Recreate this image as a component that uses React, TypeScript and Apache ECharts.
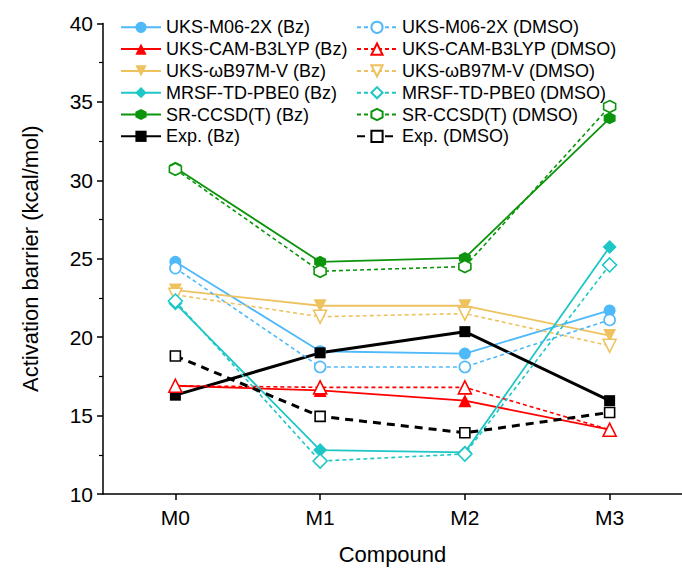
import React, { useEffect, useRef } from "react";
import * as echarts from "echarts";

const categories = ["M0", "M1", "M2", "M3"];

const m062xBz = [24.8, 19.1, 18.95, 21.7];
const m062xDmso = [24.4, 18.1, 18.1, 21.1];
const camBz = [16.9, 16.6, 15.95, 14.1];
const camDmso = [16.9, 16.8, 16.8, 14.1];
const wb97Bz = [23.0, 22.0, 22.0, 20.1];
const wb97Dmso = [22.7, 21.3, 21.5, 19.45];
const mrsfBz = [22.15, 12.8, 12.65, 25.75];
const mrsfDmso = [22.3, 12.1, 12.55, 24.6];
const ccsdBz = [30.8, 24.8, 25.05, 33.95];
const ccsdDmso = [30.7, 24.2, 24.5, 34.7];
const expBz = [16.3, 19.0, 20.35, 15.95];
const expDmso = [18.8, 14.95, 13.9, 15.2];

const yTicks = { min: 10, max: 40, interval: 5 };

const FONT = "Liberation Sans, Arial, sans-serif";

const C_BLUE = "#4fb9f9";
const C_RED = "#ff0000";
const C_YEL = "#eec25f";
const C_CYAN = "#1fc6c6";
const C_GREEN = "#0c950c";
const C_BLACK = "#000000";

const HEX = "path://M5,0 L9.33,2.5 L9.33,7.5 L5,10 L0.67,7.5 L0.67,2.5 Z";
const TRI_DOWN = "path://M0,0 L10,0 L5,8.66 Z";
const TRI_UP = "path://M5,0 L10,8.66 L0,8.66 Z";

type Def = {
  name: string;
  data: number[];
  color: string;
  symbol: string;
  size: number;
  hollow: boolean;
  width: number;
  dash: number[] | null;
};

const defs: Def[] = [
  { name: "UKS-M06-2X (Bz)", data: m062xBz, color: C_BLUE, symbol: "circle", size: 12, hollow: false, width: 1.8, dash: null },
  { name: "UKS-CAM-B3LYP (Bz)", data: camBz, color: C_RED, symbol: TRI_UP, size: 13, hollow: false, width: 1.8, dash: null },
  { name: "UKS-ωB97M-V (Bz)", data: wb97Bz, color: C_YEL, symbol: TRI_DOWN, size: 13, hollow: false, width: 1.8, dash: null },
  { name: "MRSF-TD-PBE0 (Bz)", data: mrsfBz, color: C_CYAN, symbol: "diamond", size: 14, hollow: false, width: 1.8, dash: null },
  { name: "SR-CCSD(T) (Bz)", data: ccsdBz, color: C_GREEN, symbol: HEX, size: 12, hollow: false, width: 1.8, dash: null },
  { name: "Exp. (Bz)", data: expBz, color: C_BLACK, symbol: "rect", size: 11, hollow: false, width: 3, dash: null },
  { name: "UKS-M06-2X (DMSO)", data: m062xDmso, color: C_BLUE, symbol: "circle", size: 11, hollow: true, width: 1.6, dash: [4, 3] },
  { name: "UKS-CAM-B3LYP (DMSO)", data: camDmso, color: C_RED, symbol: TRI_UP, size: 13, hollow: true, width: 1.6, dash: [4, 3] },
  { name: "UKS-ωB97M-V (DMSO)", data: wb97Dmso, color: C_YEL, symbol: TRI_DOWN, size: 13, hollow: true, width: 1.6, dash: [4, 3] },
  { name: "MRSF-TD-PBE0 (DMSO)", data: mrsfDmso, color: C_CYAN, symbol: "diamond", size: 14, hollow: true, width: 1.6, dash: [4, 3] },
  { name: "SR-CCSD(T) (DMSO)", data: ccsdDmso, color: C_GREEN, symbol: HEX, size: 12, hollow: true, width: 1.6, dash: [4, 3] },
  { name: "Exp. (DMSO)", data: expDmso, color: C_BLACK, symbol: "rect", size: 10, hollow: true, width: 3, dash: [8, 6] },
];

export default function App() {
  const ref = useRef<HTMLDivElement>(null);

  useEffect(() => {
    if (!ref.current) return;
    const chart = echarts.init(ref.current, null, { renderer: "svg" });

    const series = defs.map((d) => ({
      type: "line",
      name: d.name,
      data: d.data,
      symbol: d.symbol,
      symbolSize: d.size,
      showSymbol: true,
      z: d.hollow ? 3 : 2,
      lineStyle: {
        color: d.color,
        width: d.width,
        type: d.dash ? d.dash : "solid",
      },
      itemStyle: d.hollow
        ? { color: "#ffffff", borderColor: d.color, borderWidth: 1.6, opacity: 1 }
        : { color: d.color, borderColor: d.color, borderWidth: 0 },
      emphasis: { disabled: true },
    }));

    const legendCommon = {
      orient: "vertical",
      itemWidth: 40,
      itemHeight: 14,
      itemGap: 1.8,
      textStyle: { fontFamily: FONT, fontSize: 18, color: "#000", lineHeight: 20 },
      selectedMode: false,
      padding: 0,
    };

    chart.setOption({
      animation: false,
      backgroundColor: "#ffffff",
      textStyle: { fontFamily: FONT },
      grid: { left: 103, top: 23.4, right: -8, bottom: 74.5, containLabel: false },
      legend: [
        { ...legendCommon, left: 120, top: 17.3, data: defs.slice(0, 6).map((d) => d.name) },
        { ...legendCommon, left: 356, top: 17.3, data: defs.slice(6).map((d) => d.name) },
      ],
      xAxis: {
        type: "category",
        data: categories,
        boundaryGap: true,
        name: "Compound",
        nameLocation: "middle",
        nameGap: 49,
        nameTextStyle: { fontFamily: FONT, fontSize: 22, color: "#000" },
        axisLine: { lineStyle: { color: "#000", width: 1.5 } },
        axisTick: { show: true, alignWithLabel: true, length: 6, lineStyle: { color: "#000", width: 1.5 } },
        axisLabel: { fontFamily: FONT, fontSize: 21, color: "#000", margin: 13 },
        splitLine: { show: false },
      },
      yAxis: {
        type: "value",
        min: yTicks.min,
        max: yTicks.max,
        interval: yTicks.interval,
        name: "Activation barrier (kcal/mol)",
        nameLocation: "middle",
        nameGap: 62,
        nameTextStyle: { fontFamily: FONT, fontSize: 22, color: "#000" },
        axisLine: { show: true, lineStyle: { color: "#000", width: 1.5 } },
        axisTick: { show: true, inside: false, length: 6, lineStyle: { color: "#000", width: 1.5 } },
        minorTick: { show: true, splitNumber: 2, length: 4, lineStyle: { color: "#000", width: 1.2 } },
        axisLabel: { fontFamily: FONT, fontSize: 21, color: "#000", margin: 10 },
        splitLine: { show: false },
        minorSplitLine: { show: false },
      },
      series,
    });

    return () => chart.dispose();
  }, []);

  return (
    <div
      ref={ref}
      style={{ position: "absolute", left: 0, top: 0, width: 682, height: 570 }}
    />
  );
}
